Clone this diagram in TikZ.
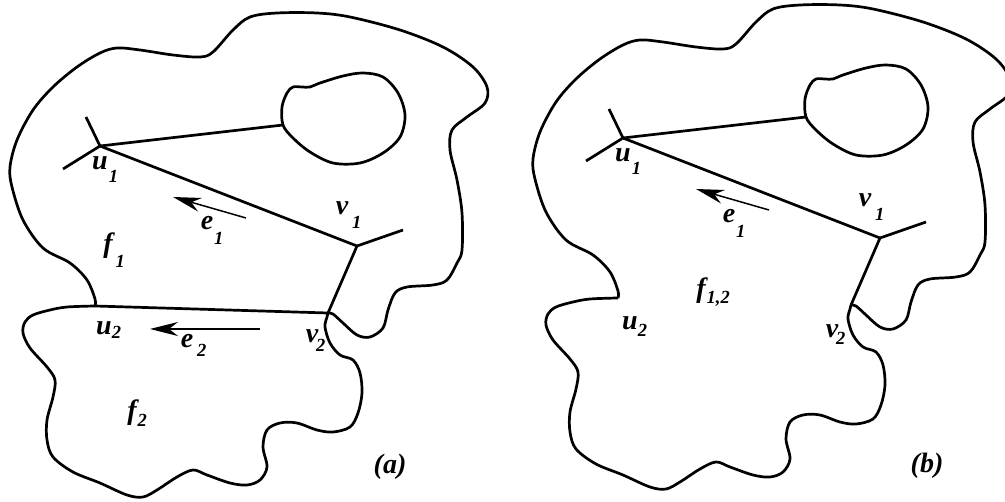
\documentclass[tikz,border=0pt]{standalone}
\usepackage{fontspec}
\setmainfont{Liberation Serif}
\newfontfamily\labelfont{Liberation Serif}[BoldItalicFont={Liberation Serif Bold Italic}]
\usetikzlibrary{arrows.meta}

% letter with a dropped subscript: #1 letter, #2 subscript, #3 kern, #4 drop
\newcommand\lb[4]{#1\rlap{\kern#3pt\raisebox{-#4pt}{\fontsize{18.5}{18.5}\selectfont #2}}}

% outline of the upper face (from u2 round to v2)
\def\upperrim{plot[smooth,tension=0.55] coordinates {(95,306) (95,299) (87,280) (70,263) (43,248) (23,220) (12,187) (10,167) (17,140) (33,110) (53,87) (77,67) (100,53) (117,48) (140,50) (173,55) (200,57) (213,52) (233,30) (250,17) (277,13) (317,13) (350,17) (400,30) (443,47) (473,67) (487,87) (485,103) (467,117) (452,130) (450,150) (457,180) (462,213) (462,250) (457,263) (447,280) (433,285) (407,287) (395,293) (388,310) (383,328) (370,337) (357,335) (343,323) (333,314) (328,313)}}
% outline of the lower face (from u2 round to v2)
\def\lowerrim{plot[smooth,tension=0.55] coordinates {(95,306) (67,307) (50,310) (33,315) (25,322) (23,333) (30,348) (47,367) (55,380) (53,397) (47,420) (47,440) (53,457) (73,472) (100,483) (127,495) (143,497) (157,490) (177,477) (193,470) (207,475) (230,483) (247,485) (260,480) (267,467) (263,447) (267,430) (280,423) (297,423) (317,430) (333,432) (350,427) (358,413) (362,393) (360,373) (353,360) (340,355) (330,343) (325,327) (327,317) (328,313)}}
% the hole
\def\holerim{plot[smooth cycle,tension=0.55] coordinates {(283,125) (282,107) (287,93) (293,87) (302,87) (310,87) (320,83) (343,76) (363,73) (383,77) (398,93) (405,115) (400,137) (383,153) (360,163) (333,163) (310,152) (293,138)}}

\newcommand\drawpanel[1]{%
  \coordinate (#1u1) at (100,146);
  \coordinate (#1v1) at (357,246);
  \coordinate (#1u2) at (95,306);
  \coordinate (#1v2) at (328,313);
  \coordinate (#1ta) at (86,117);
  \coordinate (#1tb) at (63,169);
  \coordinate (#1tc) at (403,230);
  \coordinate (#1h)  at (283,125);
  \coordinate (#1e1s) at (246,218);
  \coordinate (#1e1t) at (173,197);
  \draw[rim] \upperrim;
  \draw[rim] \lowerrim;
  \draw[rim] \holerim;
  \draw[edge] (#1ta) -- (#1u1) -- (#1tb);
  \draw[edge] (#1u1) -- (#1h);
  \draw[edge] (#1u1) -- (#1v1) -- (#1v2);
  \draw[edge] (#1v1) -- (#1tc);
  \draw[dirarrow] (#1e1s) -- (#1e1t);
}

\begin{document}
\begin{tikzpicture}[x=1pt,y=-1pt,line join=round,
  rim/.style={line width=2.7pt},
  edge/.style={line width=2.7pt},
  dirarrow/.style={line width=1.5pt,-{Stealth[length=28pt,width=14pt,inset=9pt]}},
  lbl/.style={anchor=base,inner sep=0pt,font=\labelfont\fontsize{28}{31}\selectfont\bfseries\itshape},
  panelcap/.style={anchor=center,inner sep=0pt,font=\labelfont\fontsize{28}{31}\selectfont\bfseries\itshape}]
\useasboundingbox (0,0) rectangle (1005,502);

% panel (a)
\drawpanel{a}
\draw[edge] (au2) -- (av2);
\coordinate (ae2s) at (260,329);
\coordinate (ae2t) at (150,329);
\draw[dirarrow] (ae2s) -- (ae2t);

\node[lbl] (la-u1) at (100,170) {\lb{u}{1}{1}{13}};
\node[lbl] (la-v1) at (342,215) {\lb{v}{1}{4}{14}};
\node[lbl] (la-e1) at (207,230) {\lb{e}{1}{1}{15}};
\node[lbl] (la-f1) at (108,253) {\lb{f}{1}{3}{15}};
\node[lbl] (la-u2) at (104,335) {\lb{u}{2}{0}{4}};
\node[lbl] (la-e2) at (187,348) {\lb{e}{2}{4}{9}};
\node[lbl] (la-v2) at (312,343) {\lb{v}{2}{-2}{9}};
\node[lbl] (la-f2) at (132,420) {\lb{f}{2}{1}{7}};
\node[panelcap] (capa) at (390,467) {(a)};

% panel (b): the same map with the edge u2--v2 removed
\begin{scope}[shift={(523,-8)}]
\drawpanel{b}
\end{scope}

\node[lbl] (lb-u1) at (623,162) {\lb{u}{1}{1}{13}};
\node[lbl] (lb-v1) at (865,207) {\lb{v}{1}{4}{14}};
\node[lbl] (lb-e1) at (729,223) {\lb{e}{1}{1}{15}};
\node[lbl] (lb-u2) at (630,330) {\lb{u}{2}{0}{7}};
\node[lbl] (lb-f12) at (701,298) {\lb{f}{1,2}{1}{6}};
\node[lbl] (lb-v2) at (832,338) {\lb{v}{2}{-2}{7}};
\node[panelcap] (capb) at (927,466) {(b)};
\end{tikzpicture}
\end{document}
